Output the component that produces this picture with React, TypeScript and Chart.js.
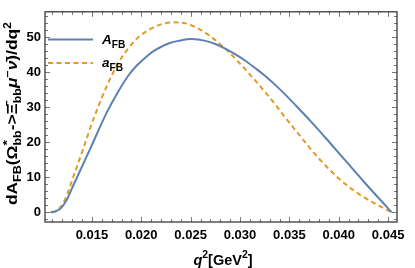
import { useEffect, useRef } from "react";
import { Chart, registerables } from "chart.js";

Chart.register(...registerables);

// A_FB (solid blue)
const qBig = [0.0108, 0.0113, 0.0118, 0.0124, 0.0131, 0.0148, 0.0165, 0.0176, 0.0187, 0.0195, 0.0204, 0.0212, 0.0221, 0.0229, 0.0238, 0.0251, 0.0265, 0.0275, 0.0285, 0.0295, 0.0305, 0.0315, 0.0325, 0.0341, 0.0357, 0.0374, 0.0391, 0.0408, 0.0425, 0.0442, 0.04536];
const vBig = [0, 0.3, 1.0, 3.3, 7.6, 18.0, 28.5, 34.2, 39.1, 41.8, 44.2, 46.0, 47.4, 48.4, 49.0, 49.5, 49.0, 48.1, 46.8, 45.2, 43.4, 41.3, 39.1, 35.0, 30.4, 25.3, 19.9, 14.4, 8.9, 3.6, 0];

// a_FB (dashed orange)
const qSmall = [0.0109, 0.0115, 0.0123, 0.0131, 0.0141, 0.0152, 0.0161, 0.017, 0.0178, 0.0187, 0.0195, 0.0204, 0.0216, 0.0224, 0.0233, 0.0245, 0.0255, 0.0265, 0.0275, 0.0285, 0.0295, 0.0305, 0.0315, 0.0325, 0.0335, 0.0345, 0.0357, 0.0374, 0.0391, 0.0408, 0.0425, 0.0442, 0.04536];
const vSmall = [0, 0.6, 3.8, 10.0, 18.0, 27.0, 33.4, 39.1, 43.3, 46.9, 49.5, 51.5, 53.3, 54.0, 54.3, 54.0, 52.9, 51.3, 49.2, 46.8, 44.0, 41.0, 37.8, 34.5, 31.1, 27.4, 23.2, 17.3, 12.1, 7.8, 4.4, 1.7, 0];

const xTickValues = [0.015, 0.02, 0.025, 0.03, 0.035, 0.04, 0.045];
const yTickValues = [0, 10, 20, 30, 40, 50];

const X_MIN = 0.01025;
const X_MAX = 0.0459;
const Y_MIN = -2.75;
const Y_MAX = 57.3;

const BLUE = "#5E81B5";
const ORANGE = "#E19C24";
const FONT = "'Liberation Sans', Arial, sans-serif";

type Seg = { t?: string; s?: number; dy?: number; it?: boolean; stack?: Seg[] };

function segFont(base: number, seg: Seg) {
  return `${seg.it ? "italic " : ""}bold ${base * (seg.s ?? 1)}px ${FONT}`;
}
function measure(ctx: CanvasRenderingContext2D, base: number, seg: Seg): number {
  if (seg.stack) return Math.max(...seg.stack.map((s) => measure(ctx, base, s)));
  ctx.font = segFont(base, seg);
  return ctx.measureText(seg.t ?? "").width;
}
function drawRich(
  ctx: CanvasRenderingContext2D,
  segs: Seg[],
  base: number,
  x0: number,
  baseline: number,
  align: "center" | "left",
  stretch = 1
) {
  const total = segs.reduce((a, s) => a + measure(ctx, base, s), 0) * stretch;
  let x = align === "center" ? x0 - total / 2 : x0;
  ctx.textAlign = "left";
  ctx.textBaseline = "alphabetic";
  for (const seg of segs) {
    const parts = seg.stack ?? [seg];
    for (const p of parts) {
      ctx.font = segFont(base, p);
      ctx.save();
      ctx.translate(x, baseline + (p.dy ?? 0) * base);
      ctx.scale(stretch, 1);
      ctx.fillText(p.t ?? "", 0, 0);
      ctx.restore();
    }
    x += measure(ctx, base, seg) * stretch;
  }
  return total;
}

const SUB = { s: 0.72, dy: 0.28 };
const SUP = { s: 0.72, dy: -0.42 };

const yTitle: Seg[] = [
  { t: "dA" },
  { t: "FB", ...SUB },
  { t: "(Ω" },
  { stack: [{ t: "*", s: 0.8, dy: -0.42 }, { t: "bb", ...SUB }] },
  { t: "->" },
  { t: "Ξ̄" },
  { t: "bb", ...SUB },
  { t: "μ", it: true },
  { t: "−", ...SUP },
  { t: "ν̄", it: true },
  { t: ")/dq" },
  { t: "2", ...SUP },
];
const xTitle: Seg[] = [
  { t: "q", it: true },
  { t: "2", ...SUP },
  { t: "[GeV" },
  { t: "2", ...SUP },
  { t: "]" },
];
const legendBig: Seg[] = [{ t: "A", it: true }, { t: "FB", s: 0.75, dy: 0.3 }];
const legendSmall: Seg[] = [{ t: "a", it: true }, { t: "FB", s: 0.75, dy: 0.3 }];

const xMinor: number[] = [];
for (let i = 11; i <= 45; i++) xMinor.push(i / 1000);
const yMinor: number[] = [];
for (let i = -2; i <= 56; i += 2) yMinor.push(i);

const framePlugin = {
  id: "frameDecor",
  afterDraw(chart: any) {
    const ctx: CanvasRenderingContext2D = chart.ctx;
    const { left, right, top, bottom } = chart.chartArea;
    const xs = chart.scales.x;
    const ys = chart.scales.y;
    ctx.save();
    ctx.strokeStyle = "#777";
    ctx.lineWidth = 1;
    const drawX = (v: number, len: number) => {
      const p = Math.round(xs.getPixelForValue(v)) + 0.5;
      ctx.beginPath();
      ctx.moveTo(p, bottom);
      ctx.lineTo(p, bottom - len);
      ctx.moveTo(p, top);
      ctx.lineTo(p, top + len);
      ctx.stroke();
    };
    const drawY = (v: number, len: number) => {
      const p = Math.round(ys.getPixelForValue(v)) + 0.5;
      ctx.beginPath();
      ctx.moveTo(left, p);
      ctx.lineTo(left + len, p);
      ctx.moveTo(right, p);
      ctx.lineTo(right - len, p);
      ctx.stroke();
    };
    xMinor.forEach((v) => drawX(v, xTickValues.some((t) => Math.abs(t - v) < 1e-9) ? 5 : 3));
    yMinor.forEach((v) => drawY(v, yTickValues.includes(v) ? 5 : 3));
    ctx.strokeStyle = "#3a3a3a";
    ctx.lineWidth = 1.3;
    ctx.strokeRect(left, top, right - left, bottom - top);

    ctx.fillStyle = "#000";
    ctx.save();
    ctx.translate(17, 113.5);
    ctx.rotate(-Math.PI / 2);
    const natural = yTitle.reduce((a, s) => a + measure(ctx, 14, s), 0);
    const stretch = Math.min(1.4, Math.max(0.9, 183 / natural));
    drawRich(ctx, yTitle, 14, 0, 0, "center", stretch);
    ctx.restore();
    drawRich(ctx, xTitle, 14.5, 223, 264.5, "center");

    const ds = chart.data.datasets;
    ctx.lineWidth = 2;
    ctx.strokeStyle = ds[0].borderColor;
    ctx.setLineDash([]);
    ctx.beginPath();
    ctx.moveTo(48, 39.5);
    ctx.lineTo(93, 39.5);
    ctx.stroke();
    ctx.strokeStyle = ds[1].borderColor;
    ctx.setLineDash(ds[1].borderDash);
    ctx.beginPath();
    ctx.moveTo(48, 63);
    ctx.lineTo(93, 63);
    ctx.stroke();
    ctx.setLineDash([]);
    drawRich(ctx, legendBig, 13.5, 102, 44, "left");
    drawRich(ctx, legendSmall, 13.5, 102, 67, "left");
    ctx.restore();
  },
};

export default function App() {
  const ref = useRef<HTMLCanvasElement>(null);
  useEffect(() => {
    if (!ref.current) return;
    const chart = new Chart(ref.current, {
      type: "line",
      data: {
        datasets: [
          {
            label: "A_FB",
            data: qBig.map((x, i) => ({ x, y: vBig[i] })),
            borderColor: BLUE,
            borderWidth: 2,
            pointRadius: 0,
            cubicInterpolationMode: "monotone",
            fill: false,
          },
          {
            label: "a_FB",
            data: qSmall.map((x, i) => ({ x, y: vSmall[i] })),
            borderColor: ORANGE,
            borderWidth: 2,
            borderDash: [5, 3.5],
            pointRadius: 0,
            cubicInterpolationMode: "monotone",
            fill: false,
          },
        ],
      },
      options: {
        responsive: false,
        animation: false,
        devicePixelRatio: 1,
        layout: { padding: { top: 4, right: 18, left: 0, bottom: 0 } },
        plugins: { legend: { display: false }, tooltip: { enabled: false } },
        scales: {
          x: {
            type: "linear",
            min: X_MIN,
            max: X_MAX,
            grid: { display: false, drawTicks: false },
            border: { display: false },
            afterBuildTicks: (s: any) => {
              s.ticks = xTickValues.map((value) => ({ value }));
            },
            afterFit: (s: any) => {
              s.height = 46;
            },
            ticks: {
              padding: 6,
              maxRotation: 0,
              autoSkip: false,
              color: "#000",
              font: { family: FONT, size: 13, weight: "bold" },
              callback: (v: any) => Number(v).toFixed(3),
            },
          },
          y: {
            type: "linear",
            min: Y_MIN,
            max: Y_MAX,
            grid: { display: false, drawTicks: false },
            border: { display: false },
            afterBuildTicks: (s: any) => {
              s.ticks = yTickValues.map((value) => ({ value }));
            },
            afterFit: (s: any) => {
              s.width = 45;
            },
            ticks: {
              padding: 4,
              color: "#000",
              font: { family: FONT, size: 13, weight: "bold" },
              callback: (v: any) => String(v),
            },
          },
        },
      } as any,
      plugins: [framePlugin],
    });
    return () => chart.destroy();
  }, []);
  return (
    <div style={{ position: "fixed", left: 0, top: 0, width: 415, height: 268, background: "#fff" }}>
      <canvas ref={ref} width={415} height={268} style={{ width: 415, height: 268, display: "block" }} />
    </div>
  );
}
